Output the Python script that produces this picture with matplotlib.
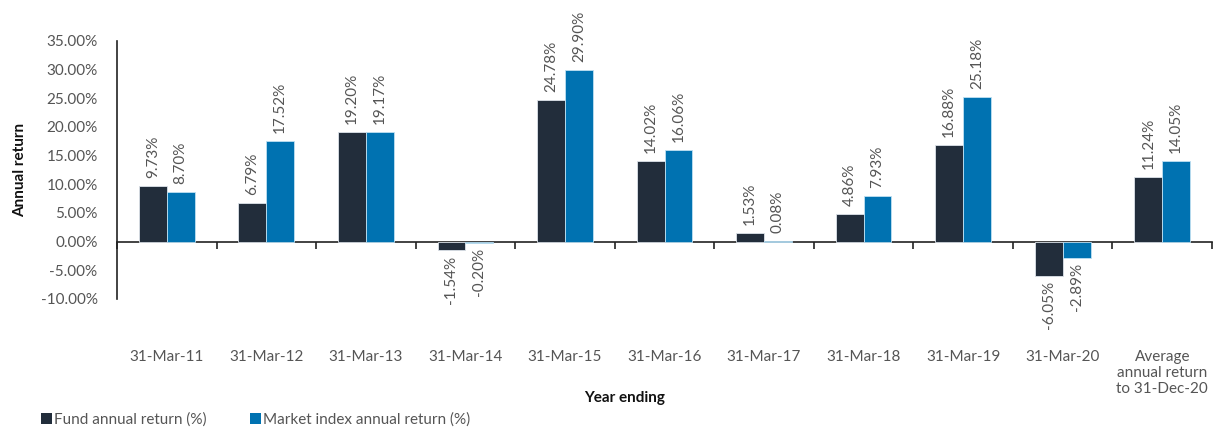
import matplotlib
matplotlib.use("Agg")
import matplotlib.pyplot as plt
from matplotlib.patches import Patch
import numpy as np

categories = ["31-Mar-11", "31-Mar-12", "31-Mar-13", "31-Mar-14", "31-Mar-15",
              "31-Mar-16", "31-Mar-17", "31-Mar-18", "31-Mar-19", "31-Mar-20",
              "Average\nannual return\nto 31-Dec-20"]
fund = [9.73, 6.79, 19.20, -1.54, 24.78, 14.02, 1.53, 4.86, 16.88, -6.05, 11.24]
market = [8.70, 17.52, 19.17, -0.20, 29.90, 16.06, 0.08, 7.93, 25.18, -2.89, 14.05]
series_names = ["Fund annual return (%)", "Market index annual return (%)"]
yticks = [-10, -5, 0, 5, 10, 15, 20, 25, 30, 35]

plt.rcParams['font.family'] = ['Lato', 'DejaVu Sans']
DARK = "#222d3b"
BLUE = "#0072b1"
TXT = "#555555"
FS = 11

fig = plt.figure(figsize=(12.17, 4.30), dpi=100)
ax = fig.add_axes([117/1217, 1 - 299/430, (1212-117)/1217, (299-41)/430])

x = np.arange(len(categories))
w = 0.28
b1 = ax.bar(x - w/2, fund, w, color=DARK, edgecolor="#dde3ea", linewidth=0.6)
b2 = ax.bar(x + w/2, market, w, color=BLUE, edgecolor="#bfe0f2", linewidth=0.6)

for bars, vals in ((b1, fund), (b2, market)):
    for rect, v in zip(bars, vals):
        cx = rect.get_x() + rect.get_width()/2
        off = 8 if v >= 0 else -5
        ax.annotate(f"{v:.2f}%", (cx, v), xytext=(0, off), textcoords="offset pixels",
                    rotation=90, ha="center", va="bottom" if v >= 0 else "top",
                    fontsize=FS, color=TXT)

ax.set_xlim(-0.5, len(categories) - 0.5)
ax.set_ylim(-10, 35)
ax.set_yticks(yticks)
ax.set_yticklabels([f"{t:.2f}%" for t in yticks])
ax.tick_params(axis="y", length=0, pad=14, labelsize=FS, labelcolor=TXT)

ax.set_xticks(x)
ax.set_xticklabels(categories)
ax.tick_params(axis="x", length=0, pad=36.5, labelsize=FS, labelcolor=TXT)
for lab in ax.get_xticklabels():
    lab.set_verticalalignment("top")

for s in ("top", "right", "bottom"):
    ax.spines[s].set_visible(False)
ax.spines["left"].set_color("#222222")
ax.spines["left"].set_linewidth(1.2)

zero_frac = (0 - (-10)) / 45
sec = ax.secondary_xaxis(zero_frac)
sec.set_xticks(np.arange(-0.5, len(categories), 1.0))
sec.tick_params(axis="x", direction="out", length=5, width=1.2, color="#222222",
                labelbottom=False, labeltop=False, top=False, bottom=True)
sec.spines["bottom"].set_color("#222222")
sec.spines["bottom"].set_linewidth(1.2)
sec.spines["top"].set_visible(False)
sec.xaxis.set_ticks_position("bottom")
sec.set_xticklabels([])

ax.set_ylabel("Annual return", fontsize=11, fontweight="bold", color="#111111")
ax.yaxis.set_label_coords(-90/1095, 0.5)

fig.text(625/1217, 1 - 398/430, "Year ending", ha="center", va="center",
         fontsize=11, fontweight="bold", color="#111111")

handles = [Patch(facecolor=DARK), Patch(facecolor=BLUE)]
fig.legend(handles, series_names, loc="center left", bbox_to_anchor=(41/1217, 1 - 420/430),
           ncol=2, frameon=False, handlelength=0.72, handleheight=0.72, handletextpad=0.15,
           columnspacing=2.8, labelcolor=TXT, prop={"size": FS},
           borderpad=0.0, borderaxespad=0.0)

fig.savefig("out.png", dpi=100)
